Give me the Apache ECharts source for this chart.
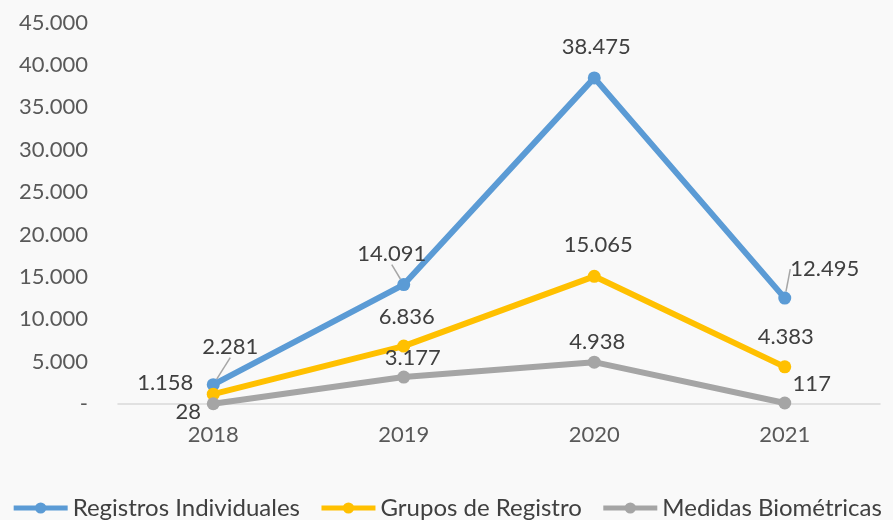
<!DOCTYPE html>
<html>
<head>
<meta charset="utf-8">
<script src="https://cdn.jsdelivr.net/npm/echarts@6/dist/echarts.min.js"></script>
<style>
  html, body { margin: 0; padding: 0; background: #f9f9f9; }
  #chart { width: 893px; height: 520px; }
</style>
</head>
<body>
<div id="chart"></div>
<script>
const years = ['2018', '2019', '2020', '2021'];
const registrosIndividuales = [2281, 14091, 38475, 12495];
const gruposDeRegistro = [1158, 6836, 15065, 4383];
const medidasBiometricas = [28, 3177, 4938, 117];

// desplazamiento de las etiquetas [dx, dy] respecto al punto
const offsetsAzul = [[17, -38], [-12, -31], [2, -31], [40, -29]];
const offsetsAmarillo = [[-48, -11], [3, -29], [4, -31], [1, -30]];
const offsetsGris = [[-25, 8], [9, -19], [3, -20], [27, -19]];
// puntos con línea guía
const guiasAzul = [true, true, false, true];

const fmt = v => v === 0 ? '-' : v.toLocaleString('de-DE');

function serie(name, values, color, offsets, guias) {
  return {
    name: name,
    type: 'line',
    data: values.map((v, i) => ({ value: v, labelLine: { show: !!(guias && guias[i]) } })),
    symbol: 'circle',
    symbolSize: 13,
    lineStyle: { color: color, width: 6 },
    itemStyle: { color: color },
    label: {
      show: true,
      position: 'inside',
      fontFamily: 'Lato',
      fontSize: 22,
      color: '#404040',
      formatter: p => fmt(p.value)
    },
    labelLine: { show: false, lineStyle: { color: '#a6a6a6', width: 1.5 } },
    labelLayout: p => ({ dx: offsets[p.dataIndex][0], dy: offsets[p.dataIndex][1] }),
    emphasis: { disabled: true }
  };
}

const chart = echarts.init(document.getElementById('chart'));
chart.setOption({
  backgroundColor: '#f9f9f9',
  animation: false,
  textStyle: { fontFamily: 'Lato' },
  grid: { left: 118, right: 13, top: 22.6, bottom: 116 },
  legend: {
    bottom: -5,
    left: 'center',
    itemWidth: 54,
    itemHeight: 14,
    itemGap: 19,
    lineStyle: { width: 5 },
    textStyle: { fontFamily: 'Lato', fontSize: 24, color: '#404040' },
    data: ['Registros Individuales', 'Grupos de Registro', 'Medidas Biométricas']
  },
  xAxis: {
    type: 'category',
    data: years,
    boundaryGap: true,
    axisLine: { lineStyle: { color: '#d9d9d9', width: 1.5 } },
    axisTick: { show: false },
    axisLabel: { fontFamily: 'Lato', fontSize: 22, color: '#595959', margin: 20 }
  },
  yAxis: {
    type: 'value',
    min: 0,
    max: 45000,
    interval: 5000,
    axisLine: { show: false },
    axisTick: { show: false },
    splitLine: { show: false },
    axisLabel: { fontFamily: 'Lato', fontSize: 22, color: '#595959', margin: 30, formatter: fmt }
  },
  series: [
    serie('Registros Individuales', registrosIndividuales, '#5b9bd5', offsetsAzul, guiasAzul),
    serie('Grupos de Registro', gruposDeRegistro, '#ffc000', offsetsAmarillo),
    serie('Medidas Biométricas', medidasBiometricas, '#a5a5a5', offsetsGris)
  ]
});
</script>
</body>
</html>
